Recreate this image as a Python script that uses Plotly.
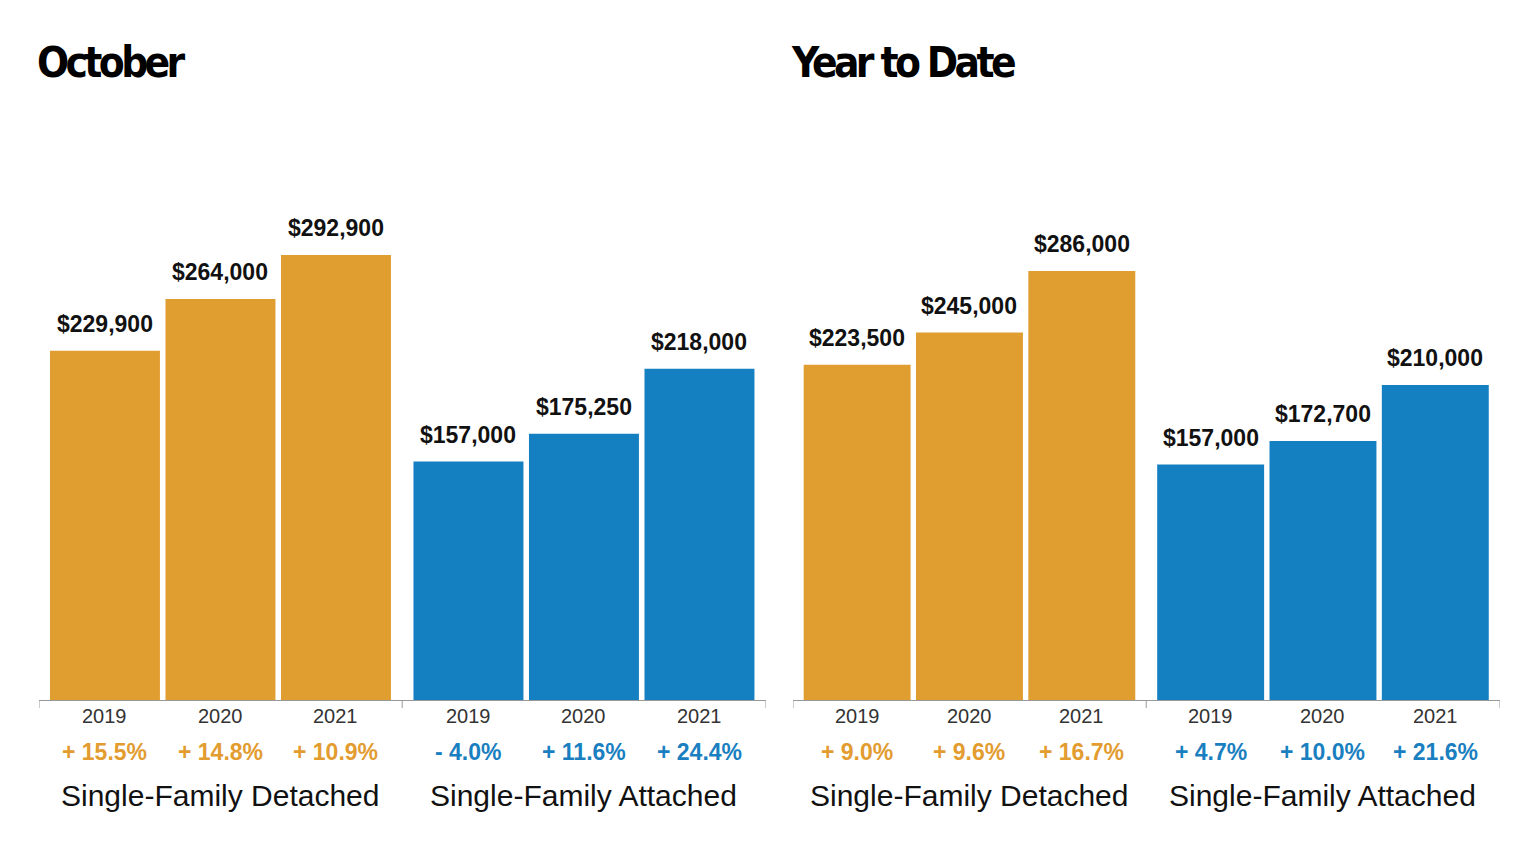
import plotly.graph_objects as go

# ---------------- data ----------------
years = ["2019", "2020", "2021"]
groups = ["Single-Family Detached", "Single-Family Attached"]
panel_titles = ["October", "Year to Date"]

oct_detached = [229900, 264000, 292900]
oct_attached = [157000, 175250, 218000]
ytd_detached = [223500, 245000, 286000]
ytd_attached = [157000, 172700, 210000]

oct_detached_pct = ["+ 15.5%", "+ 14.8%", "+ 10.9%"]
oct_attached_pct = ["- 4.0%", "+ 11.6%", "+ 24.4%"]
ytd_detached_pct = ["+ 9.0%", "+ 9.6%", "+ 16.7%"]
ytd_attached_pct = ["+ 4.7%", "+ 10.0%", "+ 21.6%"]

# ---------------- styles ----------------
ORANGE = "#E09D30"
BLUE = "#1580C1"
ORANGE_T = "#E29C30"
BLUE_T = "#1A7FC0"
OFF = 8                      # page body margin
FW, FH = 1524 - 2 * OFF, 844 - 2 * OFF
FONT = "Liberation Sans, Arial, sans-serif"
TITLE_FONT = "Liberation Sans Narrow, DejaVu Sans Condensed, Liberation Sans, sans-serif"

GAP = 0.147
xs_det = [0, 1, 2]
xs_att = [3 + GAP, 4 + GAP, 5 + GAP]
XR = [-0.571, 5.723]
SEP = (2 + 3 + GAP) / 2


def px(x):
    return (x - OFF) / FW


def py(y):
    return (FH + OFF - y) / FH


panels = [
    dict(det=oct_detached, att=oct_attached, dp=oct_detached_pct, ap=oct_attached_pct,
         xa="x", ya="y", dom=[px(39), px(766)], ymax=395000, title_x=35),
    dict(det=ytd_detached, att=ytd_attached, dp=ytd_detached_pct, ap=ytd_attached_pct,
         xa="x2", ya="y2", dom=[px(793), px(1500)], ymax=400000, title_x=789),
]

fig = go.Figure()
annotations = []
shapes = []

for i, p in enumerate(panels):
    for xs, vals, col in [(xs_det, p["det"], ORANGE), (xs_att, p["att"], BLUE)]:
        fig.add_trace(go.Bar(x=xs, y=vals, width=0.952, marker=dict(color=col, line=dict(width=0)),
                             xaxis=p["xa"], yaxis=p["ya"], showlegend=False, hoverinfo="skip"))
        for x, v in zip(xs, vals):
            annotations.append(dict(x=x, y=v, xref=p["xa"], yref=p["ya"], text="<b>$%s</b>" % f"{v:,}",
                                    showarrow=False, yanchor="middle", yshift=27,
                                    font=dict(family=FONT, size=23, color="#111")))
    for xs, pcts, tc in [(xs_det, p["dp"], ORANGE_T), (xs_att, p["ap"], BLUE_T)]:
        for x, yr, pc in zip(xs, years, pcts):
            annotations.append(dict(x=x, y=py(716), xref=p["xa"], yref="paper", text=yr,
                                    showarrow=False, yanchor="middle",
                                    font=dict(family=FONT, size=20, color="#333")))
            annotations.append(dict(x=x, y=py(752), xref=p["xa"], yref="paper", text="<b>%s</b>" % pc,
                                    showarrow=False, yanchor="middle",
                                    font=dict(family=FONT, size=23, color=tc)))
    for xs, g in [(xs_det, groups[0]), (xs_att, groups[1])]:
        annotations.append(dict(x=xs[1], y=py(795), xref=p["xa"], yref="paper", text=g,
                                showarrow=False, yanchor="middle",
                                font=dict(family=FONT, size=30, color="#111")))
    annotations.append(dict(x=px(p["title_x"]), y=py(63), xref="paper", yref="paper",
                            text="<span style=\"letter-spacing:-3.6px\"><b>%s</b></span>" % panel_titles[i],
                            showarrow=False, xanchor="left", yanchor="middle",
                            font=dict(family=TITLE_FONT, size=42, color="#000")))
    for tx in [XR[0], SEP, XR[1]]:
        shapes.append(dict(type="line", xref=p["xa"], yref="paper", x0=tx, x1=tx,
                           y0=py(700), y1=py(708), line=dict(color="#999", width=1)))

ax_common = dict(range=XR, showgrid=False, zeroline=False, showticklabels=False,
                 showline=True, linecolor="#999", linewidth=1, ticks="", fixedrange=True)
ay_common = dict(showgrid=False, zeroline=False, showticklabels=False, showline=False,
                 domain=[py(700), py(100)], fixedrange=True)

fig.update_layout(
    width=FW, height=FH,
    margin=dict(l=0, r=0, t=0, b=0),
    paper_bgcolor="white", plot_bgcolor="white",
    barmode="overlay",
    xaxis=dict(domain=panels[0]["dom"], anchor="y", **ax_common),
    yaxis=dict(range=[0, panels[0]["ymax"]], anchor="x", **ay_common),
    xaxis2=dict(domain=panels[1]["dom"], anchor="y2", **ax_common),
    yaxis2=dict(range=[0, panels[1]["ymax"]], anchor="x2", **ay_common),
    annotations=annotations,
    shapes=shapes,
)

fig.write_html("out.html")
